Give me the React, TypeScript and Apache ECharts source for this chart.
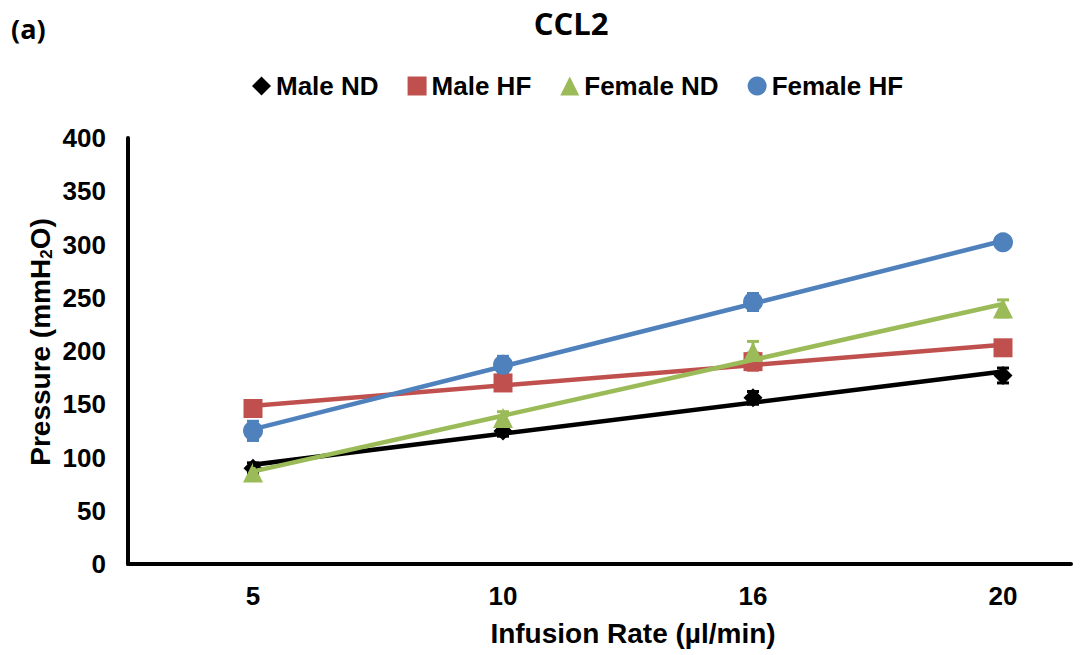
import React, { useEffect, useRef } from 'react';
import * as echarts from 'echarts';

const categories = ['5', '10', '16', '20'];
const seriesNames = ['Male ND', 'Male HF', 'Female ND', 'Female HF'];
const maleND = [90, 125, 156, 177];
const maleNDErr = [5, 5, 6, 7];
const maleHF = [146, 170, 190, 203];
const maleHFErr = [4, 5, 8, 5];
const femaleND = [86, 137, 199, 240];
const femaleNDErr = [4, 6, 10, 8];
const femaleHF = [125, 187, 246, 302];
const femaleHFErr = [9, 8, 8, 4];
const yTicks = { min: 0, max: 400, interval: 50 };

const colors = ['#000000', '#C0504D', '#9BBB59', '#4F81BD'];
const symbols = ['diamond', 'rect', 'triangle', 'circle'];
const symbolSizes = [19, 19, 20, 20];
const FONT = 'Liberation Sans';

function linearFit(vals: number[]) {
  const n = vals.length;
  const mx = (n - 1) / 2;
  const my = vals.reduce((a, b) => a + b, 0) / n;
  let num = 0;
  let den = 0;
  vals.forEach((v, i) => {
    num += (i - mx) * (v - my);
    den += (i - mx) * (i - mx);
  });
  const slope = num / den;
  const icpt = my - slope * mx;
  return [
    [0, icpt],
    [n - 1, icpt + slope * (n - 1)],
  ];
}

export default function App() {
  const ref = useRef<HTMLDivElement>(null);
  useEffect(() => {
    if (!ref.current) return;
    const chart = echarts.init(ref.current, null, { renderer: 'svg' });
    const allVals = [maleND, maleHF, femaleND, femaleHF];
    const allErrs = [maleNDErr, maleHFErr, femaleNDErr, femaleHFErr];

    const errSeries = allVals.map((vals, s) => ({
      type: 'custom',
      name: seriesNames[s] + ' error',
      z: 2,
      clip: false,
      encode: { x: 0, y: 1 },
      data: vals.map((v, i) => [i, v, allErrs[s][i]]),
      renderItem: (params: any, api: any) => {
        const x = api.value(0);
        const y = api.value(1);
        const e = api.value(2);
        const top = api.coord([x, y + e]);
        const bot = api.coord([x, y - e]);
        const w = 6;
        const st = { stroke: colors[s], lineWidth: 3 };
        return {
          type: 'group',
          children: [
            { type: 'line', shape: { x1: top[0], y1: top[1], x2: bot[0], y2: bot[1] }, style: st },
            { type: 'line', shape: { x1: top[0] - w, y1: top[1], x2: top[0] + w, y2: top[1] }, style: st },
            { type: 'line', shape: { x1: bot[0] - w, y1: bot[1], x2: bot[0] + w, y2: bot[1] }, style: st },
          ],
        };
      },
    }));

    const markerSeries = allVals.map((vals, s) => ({
      type: 'scatter',
      name: seriesNames[s],
      symbol: symbols[s],
      symbolSize: symbolSizes[s],
      itemStyle: { color: colors[s], opacity: 1 },
      z: 3,
      data: vals.map((v, i) => [i, v]),
    }));

    const trendSeries = allVals.map((vals, s) => ({
      type: 'line',
      name: seriesNames[s] + ' trend',
      symbol: 'none',
      z: 4,
      lineStyle: { color: colors[s], width: 4.5 },
      data: linearFit(vals),
    }));

    const labelStyle = { fontFamily: FONT, fontWeight: 'bold', fontSize: 26, color: '#000' };

    chart.setOption({
      animation: false,
      grid: { left: 128, right: 12, top: 138, bottom: 91 },
      legend: {
        top: 68,
        left: 247,
        itemWidth: 19,
        itemHeight: 19,
        itemGap: 29,
        textStyle: { fontFamily: FONT, fontWeight: 'bold', fontSize: 26, color: '#000' },
        data: seriesNames.map((n, s) => ({ name: n, icon: symbols[s] })),
      },
      xAxis: {
        type: 'value',
        min: -0.5,
        max: 3.272,
        interval: 0.5,
        splitLine: { show: false },
        axisTick: { show: false },
        axisLine: { onZero: false, lineStyle: { color: '#000', width: 4 } },
        axisLabel: {
          ...labelStyle,
          margin: 19,
          showMaxLabel: false,
          formatter: (v: number) =>
            Number.isInteger(v) && v >= 0 && v < categories.length ? categories[v] : '',
        },
      },
      yAxis: {
        type: 'value',
        min: yTicks.min,
        max: yTicks.max,
        interval: yTicks.interval,
        splitLine: { show: false },
        axisTick: { show: false },
        axisLine: { show: true, onZero: false, lineStyle: { color: '#000', width: 4 } },
        axisLabel: { ...labelStyle, margin: 22 },
      },
      graphic: [
        {
          type: 'text',
          x: 571,
          y: 23,
          style: {
            text: 'CCL2',
            font: 'bold 31px "Open Sans"',
            fill: '#000',
            align: 'center',
            verticalAlign: 'middle',
          },
        },
        {
          type: 'text',
          x: 11,
          y: 28,
          style: {
            text: '(a)',
            font: 'bold 27px "Open Sans"',
            fill: '#000',
            align: 'left',
            verticalAlign: 'middle',
          },
        },
        {
          type: 'text',
          x: 633,
          y: 633,
          style: {
            text: 'Infusion Rate (µl/min)',
            font: 'bold 28px "Liberation Sans"',
            fill: '#000',
            align: 'center',
            verticalAlign: 'middle',
          },
        },
        {
          type: 'text',
          x: 40,
          y: 342,
          rotation: Math.PI / 2,
          style: {
            text: '{a|Pressure (mmH}{b|2}{a|O)}',
            align: 'center',
            verticalAlign: 'middle',
            rich: {
              a: { fontFamily: FONT, fontWeight: 'bold', fontSize: 28, color: '#000', lineHeight: 32 },
              b: { fontFamily: FONT, fontWeight: 'bold', fontSize: 17, color: '#000', lineHeight: 32, padding: [13, 0, 0, 0] },
            },
          },
        },
      ],
      series: [...errSeries, ...markerSeries, ...trendSeries],
    });
    return () => chart.dispose();
  }, []);
  return (
    <div
      ref={ref}
      style={{ position: 'fixed', left: 0, top: 0, width: 1083, height: 655, background: '#fff' }}
    />
  );
}
